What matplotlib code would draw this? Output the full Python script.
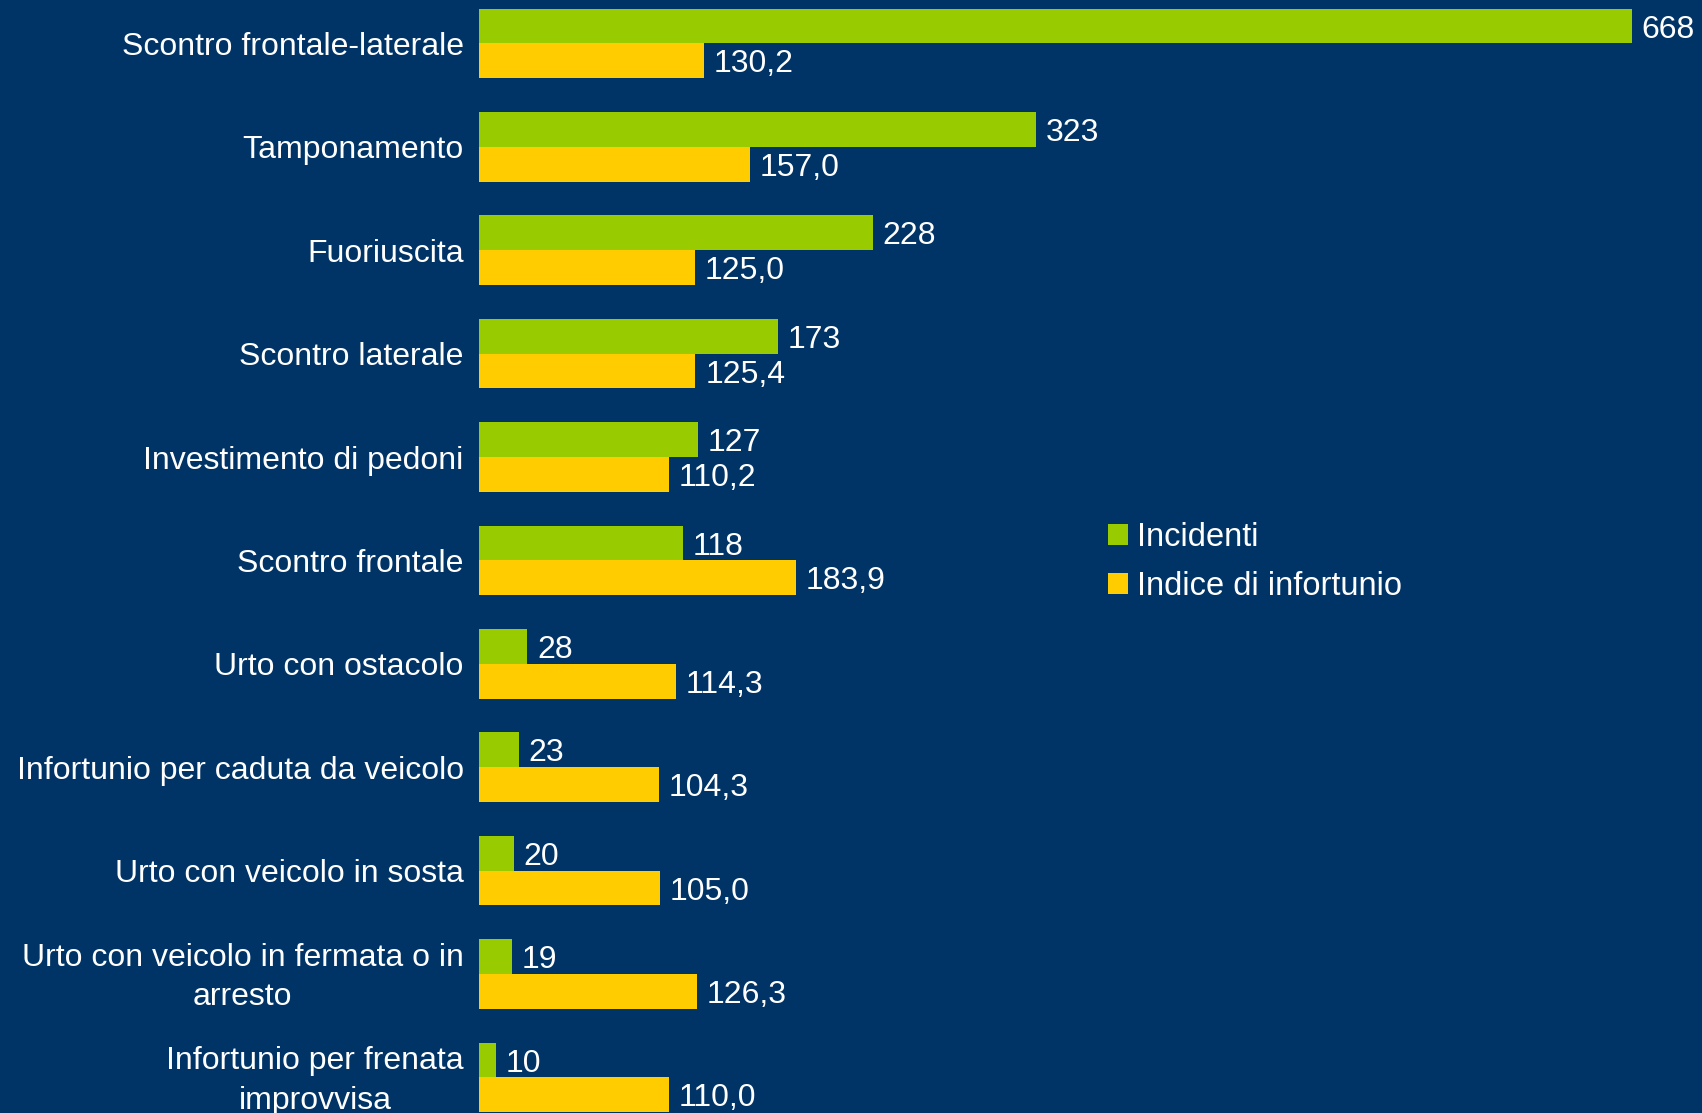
import matplotlib
matplotlib.use("Agg")
import matplotlib.pyplot as plt
import matplotlib.transforms as mtrans
import numpy as np

categories = [
    "Scontro frontale-laterale",
    "Tamponamento",
    "Fuoriuscita",
    "Scontro laterale",
    "Investimento di pedoni",
    "Scontro frontale",
    "Urto con ostacolo",
    "Infortunio per caduta da veicolo",
    "Urto con veicolo in sosta",
    "Urto con veicolo in fermata o in\narresto",
    "Infortunio per frenata\nimprovvisa",
]
incidenti = [668, 323, 228, 173, 127, 118, 28, 23, 20, 19, 10]
indice = [130.2, 157.0, 125.0, 125.4, 110.2, 183.9, 114.3, 104.3, 105.0, 126.3, 110.0]

BG = "#003366"
GREEN = "#99CC00"
YELLOW = "#FFCC00"
FONT = "Liberation Sans"
FS = 23

W, H = 1702, 1113
fig = plt.figure(figsize=(W / 100, H / 100), dpi=100, facecolor=BG)
ax = fig.add_axes([479 / W, 0, 1 - 479 / W, 1])
ax.set_facecolor(BG)

y = np.arange(len(categories))
bh = 0.336
b1 = ax.barh(y - bh / 2, incidenti, height=bh, color=GREEN, label="Incidenti")
b2 = ax.barh(y + bh / 2, indice, height=bh, color=YELLOW, label="Indice di infortunio")

anns = []
anns += ax.bar_label(b1, labels=[f"{v:d}" for v in incidenti], padding=8,
                     color="white", fontsize=FS, family=FONT)
anns += ax.bar_label(b2, labels=[f"{v:.1f}".replace(".", ",") for v in indice], padding=8,
                     color="white", fontsize=FS, family=FONT)
for a in anns:
    a.xyann = (7, -2.6)

ax.set_xlim(0, 708.6)
ax.set_ylim(10.344, -0.42)
ax.set_yticks(y)
ax.set_yticklabels(categories, fontsize=FS, family=FONT, color="white",
                   multialignment="center", linespacing=1.4)
ax.tick_params(axis="y", length=0, pad=11)
for lab in ax.get_yticklabels():
    if "\n" in lab.get_text():
        lab.set_transform(lab.get_transform() +
                          mtrans.ScaledTranslation(0, 3.2 / 72, fig.dpi_scale_trans))
ax.set_xticks([])
for s in ax.spines.values():
    s.set_visible(False)

leg = ax.legend(loc="center left", bbox_to_anchor=(1108 / W, 1 - 562 / H),
                bbox_transform=fig.transFigure, frameon=False,
                prop={"family": FONT, "size": 23.5}, labelcolor="white",
                handlelength=0.6, handleheight=0.6, handletextpad=0.3,
                labelspacing=0.55, borderpad=0, borderaxespad=0)

fig.savefig("out.png", dpi=100, facecolor=BG)
